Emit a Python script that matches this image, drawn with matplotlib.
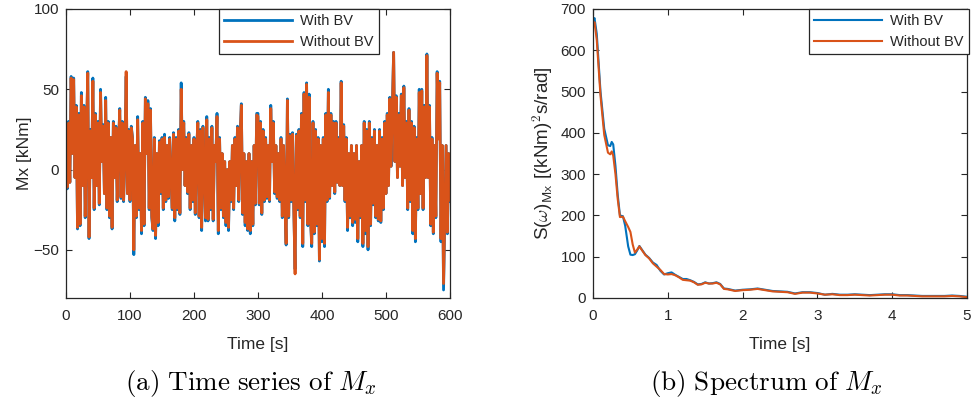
import matplotlib

matplotlib.use("Agg")
import matplotlib.pyplot as plt
import numpy as np

# time series of Mx [kNm], sampled every 2 s from 0 to 600 s
time_step = 2.0
mx_with = [
    5, -12, 30, -8, 58, 10, 57, -5, 40, -37, 35, -35, 48, -10, 40, -30, 20, 61, -43, 25,
    -5, 57, -25, 35, -10, 30, -22, 50, 5, 28,
    -15, 45, -25, 30, -30, 20, -37, 30, -5, 27, -20, 15, 38, -18, 30, -20, 10, 58, -15, 25,
    -20, 27, 20, -53, 15, -30, 33, -25, 10, -40,
    30, -35, 45, 10, 43, -25, 38, -30, -38, 20, -43, 10, -35, 18, -15, 20, -25, 22, -20, 15,
    -18, 20, -5, -25, 23, -32, 20, -25, 25, -28,
    54, 0, 30, -10, 20, -15, 23, -25, 15, -20, 20, -28, 10, 30, -30, 25, -38, 27, 0, -32,
    33, -32, 20, -25, 27, -32, 15, 5, 35, -40,
    20, -25, 10, -30, 5, -35, 0, -38, 5, -20, 15, -25, 20, -10, 27, -20, 20, 41, -28, 10,
    -35, 5, -38, 10, -40, 5, -35, 15, -22, 35,
    35, -22, 30, -28, 25, -20, 20, -18, 15, -20, 40, 5, 30, -15, 15, -18, 10, -20, 20, -30,
    15, -20, -47, 44, -30, 22, -20, 23, -25, -62,
    22, -25, 25, -30, 35, -48, 48, -20, 54, -35, 47, -30, -48, 30, -40, 25, -35, 20, -57, 15,
    -45, 20, -48, 35, -20, 50, -18, 35, -10, 30,
    -15, 30, -8, 20, -10, 55, -10, 28, -20, 20, -38, 10, -30, 15, -35, 10, -33, 15, -45, 5,
    -30, 15, -48, 30, -40, 25, -50, 30, -35, 20,
    -22, 25, -30, 15, -32, 25, -33, 20, -25, 30, -15, 35, -10, 45, 2, 40, 73, 5, 46, -5,
    35, 2, 47, -10, 52, -5, 30, -25, 38, -20,
    30, -40, 27, -45, 20, -25, 50, -15, 50, -25, 40, -5, 72, -5, 40, -35, 20, -40, 15, -30,
    61, 20, 55, -45, 15, -75, -30, 15, -40, 10, -20,
]
mx_without = [
    5, -11, 29, -8, 57, 10, 56, -5, 39, -36, 34, -34, 46, -10, 39, -29, 20, 60, -42, 24,
    -5, 55, -24, 34, -10, 29, -21, 48, 5, 27,
    -15, 43, -24, 29, -29, 20, -36, 29, -5, 26, -19, 15, 37, -17, 29, -19, 10, 61, -15, 24,
    -19, 26, 19, -50, 15, -29, 31, -24, 10, -38,
    29, -34, 44, 10, 41, -24, 37, -29, -37, 19, -41, 10, -33, 17, -14, 19, -24, 20, -19, 15,
    -17, 19, -5, -24, 22, -30, 19, -24, 24, -27,
    50, 0, 29, -10, 19, -14, 22, -24, 15, -19, 19, -27, 10, 29, -29, 24, -36, 26, 0, -30,
    31, -31, 19, -24, 26, -31, 15, 5, 33, -38,
    19, -24, 10, -29, 5, -33, 0, -36, 5, -19, 15, -24, 19, -10, 26, -19, 19, 40, -27, 10,
    -33, 5, -37, 10, -38, 5, -34, 15, -21, 34,
    33, -21, 29, -27, 24, -19, 19, -17, 15, -19, 38, 5, 29, -14, 15, -17, 10, -19, 19, -29,
    15, -19, -46, 43, -29, 21, -19, 22, -24, -65,
    21, -24, 24, -29, 34, -46, 47, -19, 53, -34, 45, -29, -46, 29, -39, 24, -34, 19, -56, 15,
    -43, 19, -46, 34, -19, 48, -17, 34, -10, 29,
    -14, 29, -8, 19, -10, 54, -10, 27, -19, 19, -36, 10, -29, 15, -33, 10, -31, 15, -43, 5,
    -29, 15, -46, 29, -38, 24, -48, 29, -34, 19,
    -21, 24, -29, 15, -31, 24, -32, 19, -24, 29, -15, 34, -10, 44, 2, 39, 73, 5, 45, -5,
    34, 2, 46, -10, 51, -5, 29, -24, 37, -19,
    29, -38, 26, -43, 19, -24, 48, -15, 49, -24, 39, -5, 71, -5, 39, -34, 19, -39, 15, -29,
    60, 19, 54, -43, 15, -71, -29, 15, -39, 10, -19,
]

# spectrum of Mx
freq = [
    0, 0.02, 0.05, 0.1, 0.15, 0.2, 0.23, 0.25, 0.27, 0.3,
    0.33, 0.36, 0.4, 0.43, 0.47, 0.5, 0.53, 0.56, 0.59, 0.62,
    0.65, 0.7, 0.75, 0.8, 0.85, 0.9, 0.95, 1.0, 1.05, 1.1,
    1.15, 1.2, 1.25, 1.3, 1.35, 1.4, 1.45, 1.5, 1.55, 1.6,
    1.65, 1.7, 1.75, 1.8, 1.85, 1.9, 2.0, 2.1, 2.2, 2.3,
    2.4, 2.5, 2.6, 2.7, 2.8, 2.9, 3.0, 3.1, 3.2, 3.3,
    3.4, 3.5, 3.6, 3.7, 3.8, 3.9, 4.0, 4.1, 4.2, 4.3,
    4.4, 4.5, 4.6, 4.7, 4.8, 4.9, 5.0,
]
spec_with = [
    670, 678, 640, 500, 410, 370, 368, 378, 372, 320,
    250, 200, 198, 175, 125, 105, 104, 106, 115, 126,
    118, 105, 97, 86, 80, 66, 57, 60, 62, 56,
    51, 46, 46, 43, 39, 33, 34, 38, 35, 36,
    38, 34, 23, 22, 20, 18, 20, 21, 23, 20,
    17, 16, 15, 11, 14, 14, 12, 8, 10, 8,
    8, 9, 8, 7, 8, 9, 9, 7, 7, 6,
    5, 5, 5, 5, 6, 5, 3,
]
spec_without = [
    660, 668, 625, 490, 395, 352, 348, 355, 345, 300,
    240, 196, 197, 186, 172, 160, 130, 110, 117, 125,
    117, 104, 96, 84, 76, 68, 58, 57, 58, 55,
    50, 44, 43, 42, 38, 32, 33, 37, 35, 35,
    37, 33, 22, 21, 19, 17, 19, 20, 22, 19,
    16, 15, 14, 10, 13, 13, 11, 8, 9, 7,
    7, 8, 7, 6, 7, 8, 8, 6, 6, 5,
    4, 4, 4, 4, 5, 4, 2,
]

labels = ["With BV", "Without BV"]
colors = ["#0072BD", "#D95319"]
text_color = "#262626"

plt.rcParams["font.family"] = ["Liberation Sans", "DejaVu Sans"]
plt.rcParams["font.size"] = 10.5


def style_axes(ax):
    for spine in ax.spines.values():
        spine.set_color(text_color)
        spine.set_linewidth(0.9)
    ax.tick_params(
        direction="in", top=True, right=True, length=4, width=0.8,
        colors=text_color, labelsize=11, pad=5,
    )
    ax.tick_params(axis="x", pad=8)


def add_legend(ax, anchor):
    leg = ax.legend(
        loc="upper right", bbox_to_anchor=anchor, fancybox=False,
        edgecolor=text_color, framealpha=1, handlelength=4.6,
        borderaxespad=0, borderpad=0.35, labelspacing=0.45, handletextpad=0.6,
    )
    leg.get_frame().set_linewidth(0.9)
    for txt in leg.get_texts():
        txt.set_color(text_color)


fig = plt.figure(figsize=(9.72, 4.09), dpi=100)
ax1 = fig.add_axes([0.0679, 0.2714, 0.395, 0.7066])
ax2 = fig.add_axes([0.6101, 0.2714, 0.3848, 0.7066])

t = np.arange(len(mx_with)) * time_step
ax1.plot(t, mx_with, color=colors[0], lw=2.0, label=labels[0])
ax1.plot(t, mx_without, color=colors[1], lw=2.0, label=labels[1])
ax1.set_xlim(0, 600)
ax1.set_ylim(-80, 100)
ax1.set_xticks([0, 100, 200, 300, 400, 500, 600])
ax1.set_yticks([-50, 0, 50, 100])
ax1.set_xlabel("Time [s]", color=text_color, fontsize=12.5, labelpad=10)
ax1.set_ylabel("Mx [kNm]", color=text_color, fontsize=12.5, labelpad=1)
style_axes(ax1)
add_legend(ax1, (0.815, 1.0))

ax2.plot(freq, spec_with, color=colors[0], lw=1.5, label=labels[0])
ax2.plot(freq, spec_without, color=colors[1], lw=1.5, label=labels[1])
ax2.set_xlim(0, 5)
ax2.set_ylim(0, 700)
ax2.set_yticks(range(0, 701, 100))
ax2.set_xlabel("Time [s]", color=text_color, fontsize=12.5, labelpad=10)
ax2.set_ylabel(
    r"S($\omega$)$_{\mathsf{Mx}}$ [(kNm)$^{\mathsf{2}}$s/rad]",
    color=text_color, fontsize=13.5, math_fontfamily="cm", labelpad=4,
)
style_axes(ax2)
add_legend(ax2, (1.005, 1.0))

fig.text(0.258, 0.063, r"$\mathrm{(a)\ Time\ series\ of}\ M_x$",
         ha="center", va="center", fontsize=19.5, math_fontfamily="cm")
fig.text(0.788, 0.063, r"$\mathrm{(b)\ Spectrum\ of}\ M_x$",
         ha="center", va="center", fontsize=19.5, math_fontfamily="cm")

fig.savefig("out.png", dpi=100)
